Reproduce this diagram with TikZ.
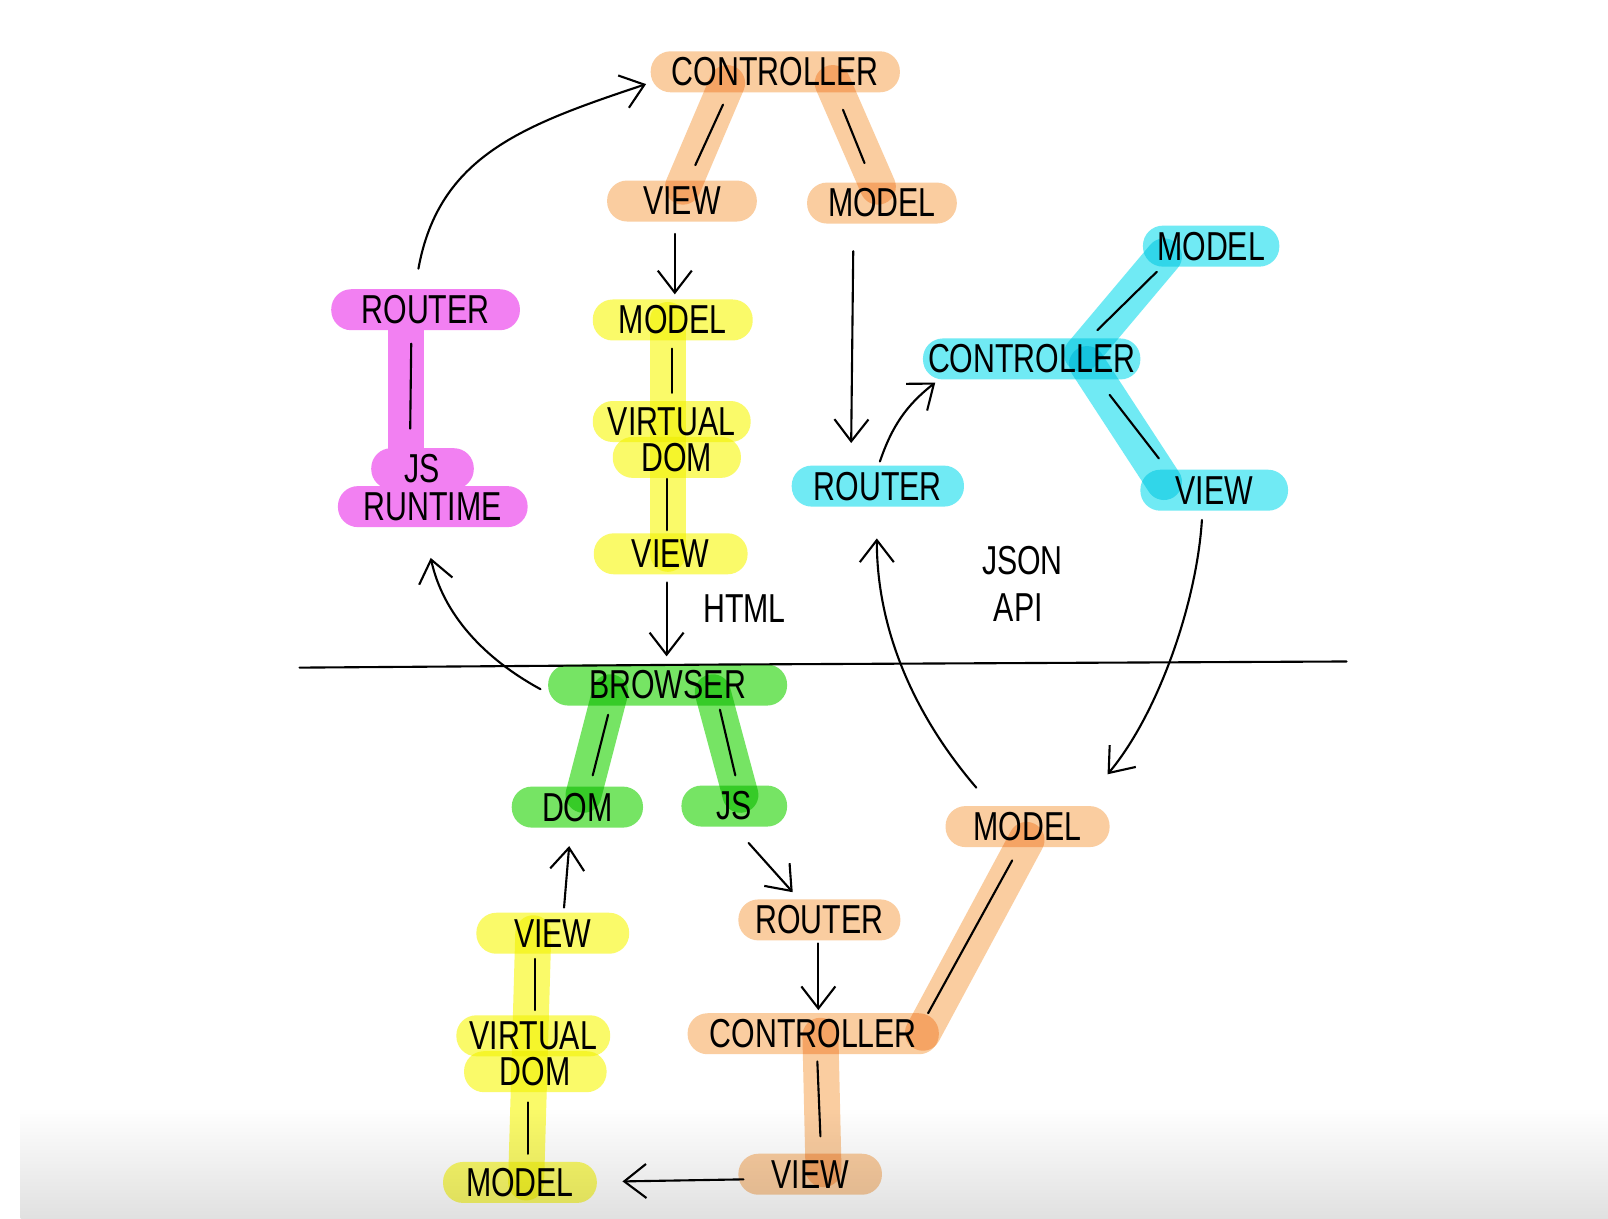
\documentclass[tikz,border=0pt]{standalone}
\usepackage{fontspec}
\setmainfont{Liberation Sans}[FakeStretch=0.75]
\usepackage{tikz}
\usetikzlibrary{arrows.meta,calc}
\definecolor{hlorange}{RGB}{250,205,160}
\definecolor{hlyellow}{RGB}{250,250,105}
\definecolor{hlmagenta}{RGB}{242,128,242}
\definecolor{hlcyan}{RGB}{112,234,244}
\definecolor{hlgreen}{RGB}{118,228,100}

\begin{document}
\begin{tikzpicture}[x=0.10255mm,y=-0.10255mm,font=\fontsize{11.5}{12}\selectfont,
  pill/.style={fill=#1,rounded corners=2mm,minimum height=4.1mm,inner sep=0pt},
  hl/.style={draw=#1,line width=3.6mm,line cap=round},
  tick/.style={line width=0.6pt,line cap=round},
  arr/.style={line width=0.6pt,line cap=round,-{Straight Barb[length=2.2mm,width=3.4mm]}}]
  \def\px{0.10255mm}
  % ---- page ----
  \useasboundingbox (0,0) rectangle (1568,1188);
  \fill[white] (0,0) rectangle (1568,1188);
  \shade[top color=white,bottom color=black!12] (20,1080) rectangle (1568,1188);

  % ---- highlighter: pills and strokes ----
  \begin{scope}[blend mode=multiply]
  \foreach \nm/\x/\y/\w/\col/\txt in {octl/756/70/243/hlorange/CONTROLLER,
                                       oview/665/196/146/hlorange/VIEW,
                                       omodel/860/198/146/hlorange/MODEL,
                                       ymodel/656/312/156/hlyellow/MODEL,
                                       yvirt/655/411/154/hlyellow/VIRTUAL,
                                       ydom/660/446/125/hlyellow/DOM,
                                       yview/654/540/150/hlyellow/VIEW,
                                       cmodel/1181/240/133/hlcyan/MODEL,
                                       cctl/1006/350/212/hlcyan/CONTROLLER,
                                       cview/1184/478/144/hlcyan/VIEW,
                                       crouter/856/474/168/hlcyan/ROUTER,
                                       gbrowser/651/668/233/hlgreen/BROWSER,
                                       gdom/563/787/128/hlgreen/DOM,
                                       gjs/716/786/103/hlgreen/JS,
                                       bview/539/910/149/hlyellow/VIEW,
                                       bvirt/520/1010/150/hlyellow/VIRTUAL,
                                       bdom/522/1045/139/hlyellow/DOM,
                                       bmodel/507/1153/150/hlyellow/MODEL,
                                       brouter/799/897/158/hlorange/ROUTER,
                                       bctl/793/1008/245/hlorange/CONTROLLER,
                                       bview2/790/1145/140/hlorange/VIEW,
                                       bmodel2/1002/806/160/hlorange/MODEL}{
    \node[pill=\col,minimum width=\w*\px] (\nm) at (\x,\y) {\txt};
  }
  \foreach \a/\ax/\ay/\b/\bx/\by/\col in {octl/-47/11/oview/1/-14/hlorange,
                                          octl/56/11/omodel/-4/-16/hlorange,
                                          ymodel/-5/0/yview/-3/0/hlyellow,
                                          cctl/49/-5/cmodel/-46/10/hlcyan,
                                          cctl/54/5/cview/-49/-8/hlcyan,
                                          gbrowser/-56/7/gdom/6/-12/hlgreen,
                                          gbrowser/44/7/gjs/6/-11/hlgreen,
                                          bview/-19/0/bmodel/6/0/hlyellow,
                                          bctl/107/-1/bmodel2/-1/13/hlorange,
                                          bctl/7/2/bview2/13/-5/hlorange}{
    \draw[hl=\col] ($(\a.center)+(\ax,\ay)$) -- ($(\b.center)+(\bx,\by)$);
  }
  \end{scope}

  % ---- magenta: one flat layer ----
  \foreach \nm/\x/\y/\w/\txt in {mrouter/415/302/184/ROUTER,
                                 mjs/412/457/100/JS,
                                 mrun/422/494/185/RUNTIME}{
    \node[pill=hlmagenta,minimum width=\w*\px] (\nm) at (\x,\y) {\txt};
  }
  \draw[hl=hlmagenta,line cap=butt] ($(mrouter.center)+(-19,16)$) -- ($(mjs.center)+(-16,-16)$);

  % ---- pen ticks inside the strokes ----
  \foreach \a/\ax/\ay/\b/\bx/\by in {octl/-51/32/oview/13/-35,
                                     octl/66/37/omodel/-17/-39,
                                     ymodel/-1/28/yvirt/0/-28,
                                     ydom/-10/21/yview/-4/-23,
                                     mrouter/-14/33/mjs/-12/-39,
                                     cctl/64/-28/cmodel/-53/25,
                                     cctl/76/35/cview/-54/-31,
                                     gbrowser/-58/29/gdom/15/-31,
                                     gbrowser/51/24/gjs/1/-30,
                                     bview/-17/25/bvirt/2/-25,
                                     bdom/-7/30/bmodel/8/-28,
                                     bctl/112/-20/bmodel2/-15/33,
                                     bctl/4/27/bview2/10/-37}{
    \draw[tick] ($(\a.center)+(\ax,\ay)$) -- ($(\b.center)+(\bx,\by)$);
  }

  % ---- server / browser split ----
  \draw[tick] (292,651) -- (700,648) -- (1313,645);

  % ---- labels ----
  \node (thtml) at (726,593) {HTML};
  \node (tjson) at (997,547) {JSON};
  \node (tapi) at (993,592) {API};

  % ---- arrows ----
  \draw[arr] ($(mrouter.center)+(-7,-40)$) .. controls +(20,-110) and +(-120,40) .. ($(octl.center)+(-126,12)$);
  \draw[arr] ($(oview.center)+(-7,32)$) -- ($(ymodel.center)+(2,-25)$);
  \draw[arr] ($(omodel.center)+(-28,47)$) -- ($(crouter.center)+(-26,-42)$);
  \draw[arr] ($(crouter.center)+(2,-24)$) .. controls +(12,-35) and +(-28,22) .. ($(cctl.center)+(-94,23)$);
  \draw[arr] ($(yview.center)+(-4,28)$) -- ($(gbrowser.center)+(-1,-28)$);
  \draw[arr] ($(gbrowser.center)+(-124,4)$) .. controls +(-55,-30) and +(12,55) .. ($(mrun.center)+(-2,50)$);
  \draw[arr] ($(cview.center)+(-12,29)$) .. controls +(-5,80) and +(50,-60) .. ($(bmodel2.center)+(78,-51)$);
  \draw[arr] ($(bmodel2.center)+(-50,-38)$) .. controls +(-60,-70) and +(0,90) .. ($(crouter.center)+(-1,51)$);
  \draw[arr] ($(gjs.center)+(14,36)$) -- ($(brouter.center)+(-26,-27)$);
  \draw[arr] ($(brouter.center)+(-1,23)$) -- ($(bctl.center)+(5,-23)$);
  \draw[arr] ($(bview.center)+(11,-25)$) -- ($(gdom.center)+(-8,38)$);
  \draw[arr] ($(bview2.center)+(-65,5)$) -- ($(bmodel.center)+(100,-1)$);
\end{tikzpicture}
\end{document}
